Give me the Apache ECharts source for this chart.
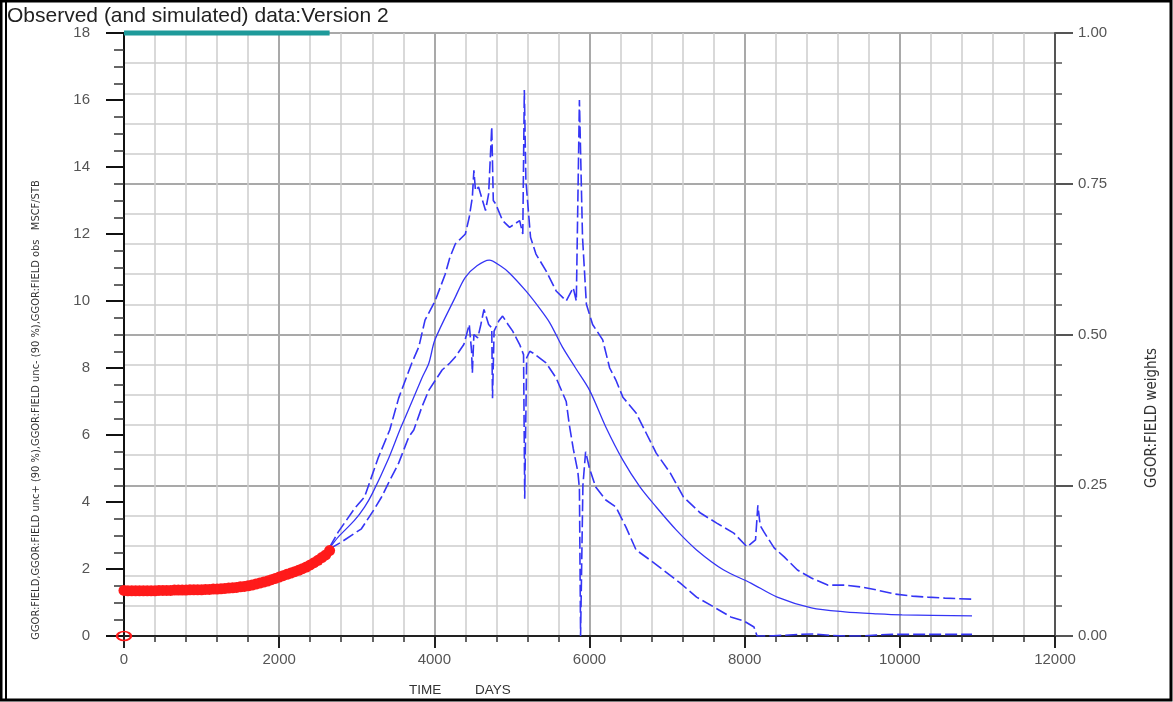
<!DOCTYPE html>
<html>
<head>
<meta charset="utf-8">
<script src="https://cdn.jsdelivr.net/npm/echarts@6/dist/echarts.min.js"></script>
<style>
html,body{margin:0;padding:0;background:#fff;}
#chart{width:1173px;height:702px;}
</style>
</head>
<body>
<div id="chart"></div>
<script>
// ---- Data ----
const xTicks = [0, 2000, 4000, 6000, 8000, 10000, 12000];
const leftTicks = [0, 2, 4, 6, 8, 10, 12, 14, 16, 18];
const rightTicks = [0.00, 0.25, 0.50, 0.75, 1.00];

// observed data (red markers)
const obsDays = [0, 0, 50, 100, 150, 200, 250, 300, 350, 400, 450, 500, 550, 600, 650, 700, 750, 800, 850, 900, 950, 1000, 1050, 1100, 1150, 1200, 1250, 1300, 1350, 1400, 1450, 1500, 1550, 1600, 1650, 1700, 1750, 1800, 1850, 1900, 1950, 2000, 2050, 2100, 2150, 2200, 2250, 2300, 2350, 2400, 2450, 2500, 2550, 2600, 2650];
const obsVals = [0.0, 1.36, 1.35, 1.35, 1.35, 1.35, 1.35, 1.35, 1.35, 1.35, 1.36, 1.36, 1.36, 1.36, 1.37, 1.37, 1.37, 1.37, 1.38, 1.38, 1.38, 1.38, 1.39, 1.39, 1.40, 1.40, 1.41, 1.42, 1.43, 1.44, 1.45, 1.47, 1.48, 1.50, 1.52, 1.55, 1.58, 1.61, 1.64, 1.68, 1.72, 1.76, 1.80, 1.84, 1.88, 1.92, 1.96, 2.01, 2.06, 2.12, 2.19, 2.26, 2.34, 2.42, 2.55];

// observation weights (right axis)
const weightDays = [0, 300, 600, 900, 1200, 1500, 1800, 2100, 2400, 2650];
const weightVals = [1, 1, 1, 1, 1, 1, 1, 1, 1, 1];

// simulated base case (solid)
const baseDays = [2650, 2760, 2970, 3100, 3200, 3410, 3555, 3620, 3840, 3930, 4008, 4267, 4397, 4550, 4708, 4850, 4970, 5180, 5350, 5490, 5650, 5820, 6000, 6210, 6430, 6650, 6860, 7120, 7380, 7730, 8080, 8420, 8860, 9290, 9710, 10030, 10930];
const baseVals = [2.62, 2.95, 3.45, 3.85, 4.25, 5.30, 6.15, 6.50, 7.70, 8.15, 8.84, 10.1, 10.7, 11.05, 11.22, 11.05, 10.83, 10.3, 9.8, 9.34, 8.63, 8.0, 7.34, 6.24, 5.25, 4.45, 3.85, 3.16, 2.57, 1.97, 1.58, 1.16, 0.84, 0.72, 0.66, 0.63, 0.60];

// upper uncertainty (dashed)
const upperDays = [2650, 2760, 2970, 3100, 3280, 3425, 3540, 3710, 3800, 3880, 4010, 4140, 4200, 4270, 4400, 4450, 4490, 4510, 4530, 4570, 4660, 4700, 4740, 4760, 4790, 4880, 4970, 5100, 5140, 5160, 5180, 5240, 5310, 5440, 5570, 5700, 5790, 5830, 5870, 5910, 5960, 6040, 6170, 6260, 6340, 6430, 6600, 6730, 6860, 7040, 7210, 7430, 7640, 7860, 8030, 8140, 8170, 8200, 8250, 8380, 8510, 8680, 8860, 9070, 9290, 9510, 9710, 9940, 10160, 10360, 10580, 10930];
const upperVals = [2.65, 3.10, 3.80, 4.15, 5.34, 6.15, 7.10, 8.15, 8.63, 9.43, 10.0, 10.8, 11.3, 11.7, 12.0, 12.5, 13.1, 13.9, 13.3, 13.4, 12.7, 13.2, 15.2, 13.0, 12.9, 12.4, 12.2, 12.4, 12.0, 16.3, 13.6, 11.9, 11.4, 10.9, 10.3, 10.0, 10.4, 10.0, 16.0, 11.9, 9.9, 9.3, 8.84, 8.0, 7.64, 7.13, 6.66, 6.06, 5.46, 4.87, 4.15, 3.67, 3.37, 3.07, 2.66, 2.87, 3.90, 3.30, 3.10, 2.63, 2.36, 1.97, 1.73, 1.52, 1.52, 1.46, 1.37, 1.25, 1.19, 1.16, 1.13, 1.10];

// lower uncertainty (dashed)
const lowerDays = [2650, 2800, 3060, 3230, 3320, 3410, 3540, 3670, 3735, 3840, 3930, 4100, 4200, 4270, 4380, 4450, 4480, 4490, 4510, 4560, 4600, 4640, 4700, 4740, 4750, 4770, 4830, 4880, 4950, 5010, 5100, 5150, 5165, 5190, 5230, 5270, 5440, 5570, 5700, 5740, 5790, 5850, 5870, 5885, 5900, 5915, 5950, 6000, 6080, 6210, 6340, 6470, 6600, 6780, 6950, 7170, 7380, 7600, 7820, 7990, 8120, 8160, 8300, 8500, 8700, 8900, 9100, 9300, 9500, 9700, 9900, 10200, 10500, 10930];
const lowerVals = [2.60, 2.80, 3.20, 3.80, 4.15, 4.57, 5.16, 5.94, 6.15, 6.84, 7.34, 7.94, 8.15, 8.33, 8.70, 9.30, 8.50, 7.85, 9.00, 8.90, 9.30, 9.75, 9.30, 9.20, 7.10, 9.10, 9.40, 9.55, 9.30, 9.10, 8.70, 8.40, 4.10, 8.30, 8.50, 8.45, 8.15, 7.70, 7.00, 6.30, 5.60, 4.90, 4.40, 0.00, 0.00, 4.50, 5.50, 5.00, 4.45, 4.06, 3.85, 3.25, 2.57, 2.27, 1.97, 1.58, 1.16, 0.87, 0.57, 0.45, 0.27, 0.00, 0.00, 0.02, 0.05, 0.06, 0.02, 0.00, 0.00, 0.03, 0.05, 0.05, 0.05, 0.05];

const zip = (xs, ys) => xs.map((x, i) => [x, ys[i]]);

const BLUE = '#3535f5';
const RED = '#ff1a1a';
const chart = echarts.init(document.getElementById('chart'), null, {renderer: 'canvas'});

const obsData = zip(obsDays, obsVals).map(p => p[1] === 0
  ? {value: p, symbolSize: [14, 9], itemStyle: {color: 'rgba(255,255,255,0)', borderColor: RED, borderWidth: 2}}
  : p);

const option = {
  animation: false,
  backgroundColor: '#ffffff',
  grid: {left: 124, right: 118, top: 33, bottom: 66, containLabel: false},
  xAxis: {
    type: 'value', min: 0, max: 12000, interval: 2000,
    axisLine: {show: true, onZero: false, lineStyle: {color: '#222', width: 2}},
    axisTick: {show: true, length: 12, lineStyle: {color: '#222', width: 2}},
    minorTick: {show: true, splitNumber: 5, length: 6, lineStyle: {color: '#333', width: 1.5}},
    axisLabel: {color: '#555', fontSize: 15, fontFamily: 'Liberation Sans', margin: 16,
      formatter: v => xTicks.includes(v) ? String(v) : ''},
    splitLine: {show: true, lineStyle: {color: '#a9a9a9', width: 2}},
    minorSplitLine: {show: true, lineStyle: {color: '#cdcdcd', width: 1.5}}
  },
  yAxis: [
    {
      type: 'value', min: 0, max: 18, interval: 2, position: 'left',
      axisLine: {show: true, onZero: false, lineStyle: {color: '#111', width: 2}},
      axisTick: {show: true, length: 18, lineStyle: {color: '#111', width: 2}},
      minorTick: {show: true, splitNumber: 4, length: 10, lineStyle: {color: '#333', width: 1.5}},
      axisLabel: {color: '#555', fontSize: 15, fontFamily: 'Liberation Sans', margin: 34,
        formatter: v => leftTicks.includes(v) ? String(v) : ''},
      splitLine: {show: false},
      minorSplitLine: {show: false}
    },
    {
      type: 'value', min: 0, max: 1, interval: 0.25, position: 'right',
      axisLine: {show: true, onZero: false, lineStyle: {color: '#555', width: 2}},
      axisTick: {show: true, length: 18, lineStyle: {color: '#555', width: 2}},
      minorTick: {show: true, splitNumber: 5, length: 7, lineStyle: {color: '#555', width: 1.5}},
      axisLabel: {color: '#555', fontSize: 15, fontFamily: 'Liberation Sans', margin: 23,
        formatter: v => rightTicks.some(t => Math.abs(t - v) < 1e-9) ? v.toFixed(2) : ''},
      splitLine: {show: true, lineStyle: {color: '#a9a9a9', width: 2}},
      minorSplitLine: {show: true, lineStyle: {color: '#cdcdcd', width: 1.5}}
    }
  ],
  series: [
    {
      name: 'GGOR:FIELD weights', type: 'line', yAxisIndex: 1,
      data: zip(weightDays, weightVals), showSymbol: false, clip: false,
      lineStyle: {color: '#1e9a9a', width: 5}, z: 3
    },
    {
      name: 'GGOR:FIELD unc+ (90 %)', type: 'line', data: zip(upperDays, upperVals),
      showSymbol: false, lineStyle: {color: BLUE, width: 1.6, type: [12, 4]}, z: 4
    },
    {
      name: 'GGOR:FIELD unc- (90 %)', type: 'line', data: zip(lowerDays, lowerVals),
      showSymbol: false, lineStyle: {color: BLUE, width: 1.6, type: [12, 4]}, z: 4
    },
    {
      name: 'GGOR:FIELD', type: 'line', data: zip(baseDays, baseVals), smooth: 0.3,
      showSymbol: false, lineStyle: {color: BLUE, width: 1.3}, z: 5
    },
    {
      name: 'GGOR:FIELD obs', type: 'scatter', data: obsData,
      symbol: 'circle', symbolSize: 11, clip: false,
      itemStyle: {color: RED, opacity: 1}, z: 6
    }
  ],
  graphic: [
    {type: 'rect', shape: {x: 1, y: 1, width: 1170, height: 699},
     style: {fill: 'none', stroke: '#000', lineWidth: 3}, z: 100, silent: true},
    {type: 'line', shape: {x1: 6, y1: 2, x2: 6, y2: 700}, style: {stroke: '#000', lineWidth: 2}, z: 100},
    {type: 'text', x: 7, y: 6,
     style: {text: 'Observed (and simulated) data:Version 2', fill: '#222', font: '21px "Liberation Sans"'}, z: 50},
    {type: 'text', x: 409, y: 683,
     style: {text: 'TIME         DAYS', fill: '#333', font: '13.5px "Liberation Sans"'}, z: 50},
    {type: 'text', x: 36, y: 410, rotation: Math.PI / 2,
     style: {text: 'GGOR:FIELD,GGOR:FIELD unc+ (90 %),GGOR:FIELD unc- (90 %),GGOR:FIELD obs   MSCF/STB',
       fill: '#333', font: '11px "DejaVu Sans Condensed"', align: 'center', verticalAlign: 'middle'}, z: 50},
    {type: 'text', x: 1152, y: 418, rotation: Math.PI / 2,
     style: {text: 'GGOR:FIELD weights', fill: '#333', font: '15px "DejaVu Sans Condensed"',
       align: 'center', verticalAlign: 'middle'}, z: 50}
  ]
};
chart.setOption(option);
</script>
</body>
</html>
